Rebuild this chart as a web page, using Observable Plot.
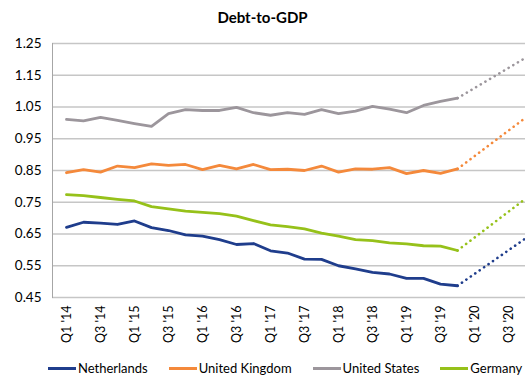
<!DOCTYPE html>
<html><head><meta charset="utf-8">
<script src="https://cdn.jsdelivr.net/npm/d3@7"></script>
<script src="https://cdn.jsdelivr.net/npm/@observablehq/plot@0.6"></script>
<style>
body{margin:0;background:#fff;font-family:Lato,"Open Sans",sans-serif;color:#000;}
#wrap{width:525px;height:375px;overflow:hidden;position:relative;background:#fff;}
#title{height:32px;line-height:34px;text-align:center;font-weight:bold;font-size:15px;}
#chart{height:323px;width:525px;overflow:hidden;}
#chart svg{max-width:none !important;}
#legend{position:absolute;top:359px;left:48px;display:flex;gap:21px;font-size:13px;white-space:nowrap;line-height:18px;}
.item{display:flex;align-items:center;}
.sw{display:inline-block;width:28px;height:3px;margin-right:2px;}
</style></head><body>
<div id="wrap"><div id="title">Debt-to-GDP</div><div id="chart"></div><div id="legend"></div></div>
<script>
const quarters = ["Q1 '14","Q2 '14","Q3 '14","Q4 '14","Q1 '15","Q2 '15","Q3 '15","Q4 '15",
  "Q1 '16","Q2 '16","Q3 '16","Q4 '16","Q1 '17","Q2 '17","Q3 '17","Q4 '17",
  "Q1 '18","Q2 '18","Q3 '18","Q4 '18","Q1 '19","Q2 '19","Q3 '19","Q4 '19",
  "Q1 '20","Q2 '20","Q3 '20","Q4 '20"];
const countries = ["Netherlands","United Kingdom","United States","Germany"];
const netherlands = [0.671,0.687,0.684,0.680,0.691,0.670,0.661,0.647,0.643,0.632,0.617,0.620,0.597,0.590,0.571,0.570,0.550,0.540,0.529,0.524,0.510,0.510,0.492,0.487];
const unitedKingdom = [0.843,0.853,0.845,0.864,0.859,0.871,0.866,0.869,0.853,0.866,0.855,0.869,0.853,0.854,0.850,0.864,0.845,0.855,0.854,0.859,0.840,0.850,0.841,0.855];
const unitedStates = [1.011,1.006,1.017,1.008,0.998,0.989,1.029,1.042,1.039,1.039,1.049,1.032,1.024,1.032,1.027,1.042,1.029,1.037,1.052,1.043,1.032,1.055,1.068,1.078];
const germany = [0.774,0.771,0.765,0.759,0.754,0.736,0.729,0.722,0.718,0.714,0.706,0.692,0.679,0.673,0.666,0.653,0.643,0.632,0.629,0.622,0.619,0.613,0.612,0.598];
const projectedQ4_20 = [0.636,1.016,1.205,0.761];
const colors = ["#1f3d8c","#f4893b","#9c969c","#96c11a"];
const yTicks = [0.45,0.55,0.65,0.75,0.85,0.95,1.05,1.15,1.25];

const series = [netherlands, unitedKingdom, unitedStates, germany];
const actual = [];
const projected = [];
series.forEach((vals, k) => {
  vals.forEach((v, i) => actual.push({country: countries[k], quarter: quarters[i], value: v}));
  projected.push({country: countries[k], quarter: quarters[vals.length - 1], value: vals[vals.length - 1]});
  projected.push({country: countries[k], quarter: quarters[quarters.length - 1], value: projectedQ4_20[k]});
});

const chart = Plot.plot({
  width: 540, height: 323,
  marginLeft: 52, marginRight: 1, marginTop: 11, marginBottom: 58,
  style: {fontFamily: "Lato, 'Open Sans', sans-serif", fontSize: "13px", color: "#000", background: "#fff", maxWidth: "none"},
  x: {type: "point", domain: quarters, padding: 0.5, label: null},
  y: {domain: [0.45, 1.25], label: null},
  color: {domain: countries, range: colors},
  marks: [
    Plot.ruleY(yTicks, {stroke: "#c6c6c6", strokeWidth: 1.3}),
    Plot.axisY({ticks: yTicks, tickFormat: d3.format(".2f"), tickSize: 0, tickPadding: 11, fontSize: 13.5, label: null}),
    Plot.axisX({ticks: quarters.filter((d, i) => i % 2 === 0), tickRotate: -90, tickSize: 0, tickPadding: 8, fontSize: 12.5, label: null}),
    Plot.frame({anchor: "left", stroke: "#a6a6a6"}),
    Plot.line(actual, {x: "quarter", y: "value", z: "country", stroke: "country", strokeWidth: 2.8}),
    Plot.line(projected, {x: "quarter", y: "value", z: "country", stroke: "country", strokeWidth: 2.6, strokeDasharray: "0.1 5.3", strokeLinecap: "round"})
  ]
});
document.getElementById("chart").appendChild(chart);

const legend = document.getElementById("legend");
countries.forEach((c, k) => {
  const item = document.createElement("div");
  item.className = "item";
  const sw = document.createElement("span");
  sw.className = "sw";
  sw.style.background = colors[k];
  item.appendChild(sw);
  item.appendChild(document.createTextNode(c));
  legend.appendChild(item);
});
</script>
</body></html>
